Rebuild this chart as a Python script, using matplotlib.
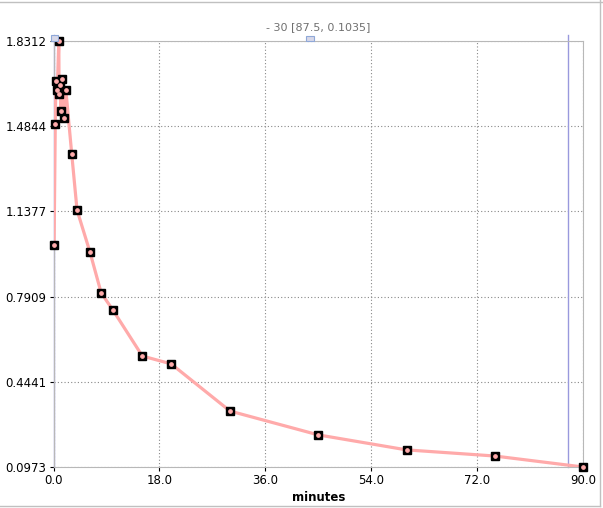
import numpy as np
import matplotlib.pyplot as plt
from matplotlib.patches import Rectangle
from matplotlib.lines import Line2D

# time activity curve (minutes, value)
t = [0.1, 0.3, 0.4, 0.65, 0.9, 0.95, 1.05, 1.3, 1.45, 1.85, 2.1, 3.1,
     4.0, 6.2, 8.1, 10.1, 15.1, 20.0, 30.0, 45.0, 60.0, 75.0, 90.0]
v = [1.001, 1.493, 1.668, 1.632, 1.8312, 1.615, 1.652, 1.547, 1.676, 1.518, 1.632, 1.371,
     1.143, 0.972, 0.806, 0.736, 0.549, 0.517, 0.325, 0.228, 0.167, 0.142, 0.0973]
yticks = [0.0973, 0.4441, 0.7909, 1.1377, 1.4844, 1.8312]
xticks = [0.0, 18.0, 36.0, 54.0, 72.0, 90.0]
cursor_x = 87.5

fig = plt.figure(figsize=(6.03, 5.08), dpi=100)
ax = fig.add_axes([53.5 / 603, 41 / 508, 529.5 / 603, 426 / 508])

ax.plot(t, v, color='#ffaaaa', lw=2.3, zorder=3)
ax.plot(t, v, 's', color='black', ms=5.5, zorder=4, clip_on=False)
ax.plot(t, v, 'o', color='#ffaaaa', ms=2.4, zorder=5, clip_on=False)

ax.set_xlim(0, 90)
ax.set_ylim(yticks[0], yticks[-1])
ax.set_xticks(xticks)
ax.set_xticklabels(['%.1f' % x for x in xticks])
ax.set_yticks(yticks)
ax.set_yticklabels(['%.4f' % y for y in yticks])
ax.grid(True, ls=(0, (1, 2)), color='#888888', lw=0.8)
ax.tick_params(labelsize=8.5, length=3, color='black', pad=2)
for s in ax.spines.values():
    s.set_color('#b8b8b8')
ax.set_xlabel('minutes', fontweight='bold', fontsize=8.5, labelpad=3)

# cursor lines, extend above the axes
for xc in [0.0, cursor_x]:
    ax.axvline(xc, ymin=0, ymax=1.015, color='#9999dd', lw=1, clip_on=False, zorder=2)

ax.text(0.5, 1.022, '- 30 [87.5, 0.1035]', transform=ax.transAxes, ha='center',
        va='bottom', fontsize=8, color='#707070')

# small handles at top
fig.patches.append(Rectangle((306 / 603, 467 / 508), 8 / 603, 5 / 508, transform=fig.transFigure,
                             facecolor='#d8d8e8', edgecolor='#8fa8d8', lw=0.8))
fig.patches.append(Rectangle((51 / 603, 467 / 508), 7 / 603, 6 / 508, transform=fig.transFigure,
                             facecolor='#d8d8e8', edgecolor='#8fa8d8', lw=0.8))

# outer panel border
fig.lines.append(Line2D([0, 1], [506.5 / 508, 506.5 / 508], transform=fig.transFigure, color='#c0c0c0', lw=1))
fig.lines.append(Line2D([0, 600 / 603], [2 / 508, 2 / 508], transform=fig.transFigure, color='#c0c0c0', lw=1))
fig.lines.append(Line2D([600 / 603, 600 / 603], [2 / 508, 1], transform=fig.transFigure, color='#c0c0c0', lw=1))

fig.savefig('out.png', dpi=100)
